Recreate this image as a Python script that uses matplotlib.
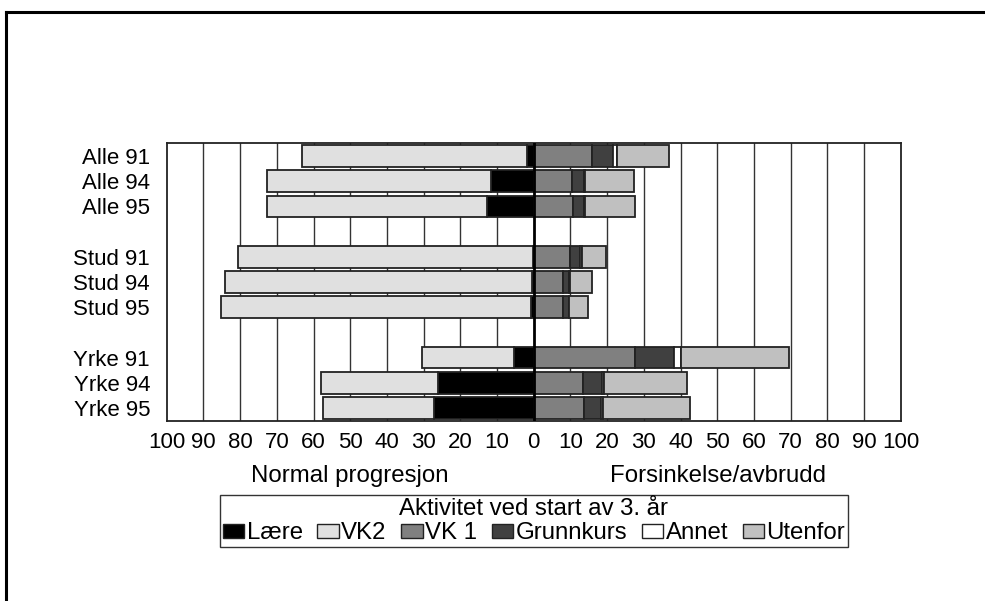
import matplotlib.pyplot as plt
from matplotlib.lines import Line2D
from matplotlib.patches import Patch
import numpy as np

plt.rcParams['font.family'] = ['Liberation Sans', 'DejaVu Sans']

groups = ['Alle 91', 'Alle 94', 'Alle 95', 'Stud 91', 'Stud 94', 'Stud 95',
          'Yrke 91', 'Yrke 94', 'Yrke 95']
slots = [0, 1, 2, 4, 5, 6, 8, 9, 10]

# normal progresjon (venstre side)
laere = [1.8, 11.6, 12.6, 0.2, 0.5, 0.7, 5.5, 26.2, 27.3]
vk2 = [61.4, 61.1, 60.0, 80.3, 83.6, 84.6, 24.8, 31.8, 30.1]
# forsinkelse/avbrudd (hoyre side)
vk1 = [15.8, 10.5, 10.6, 9.8, 8.1, 8.1, 27.6, 13.5, 13.6]
grunnkurs = [5.7, 3.2, 3.2, 2.9, 1.6, 1.5, 10.5, 5.2, 4.7]
annet = [1.1, 0.2, 0.1, 0.5, 0.1, 0.1, 2.1, 0.5, 0.5]
utenfor = [14.3, 13.5, 13.6, 6.4, 6.2, 5.2, 29.4, 22.7, 23.7]

ticks = list(range(-100, 101, 10))
ticklabels = [str(abs(t)) for t in ticks]

c_laere, c_vk2, c_vk1, c_gk, c_annet, c_ut = 'black', '#e0e0e0', '#808080', '#404040', 'white', '#c0c0c0'
fs = 16
fs2 = 17.3

fig = plt.figure(figsize=(9.85, 6.01), dpi=100)
ax = fig.add_axes([166.7/985, 1-420.7/601, (900.7-166.7)/985, (420.7-143.3)/601])

for t in ticks[1:-1]:
    if t != 0:
        ax.axvline(t, color='#333333', lw=1, zorder=0)

y = np.array(slots)
h = 0.86
ek = dict(height=h, edgecolor='#222222', linewidth=1.3, zorder=2)
l = -np.array(laere)
ax.barh(y, l, color=c_laere, **ek)
ax.barh(y, -np.array(vk2), left=l, color=c_vk2, **ek)

left = np.zeros(len(y))
for vals, c in [(vk1, c_vk1), (grunnkurs, c_gk), (annet, c_annet), (utenfor, c_ut)]:
    ax.barh(y, vals, left=left, color=c, **ek)
    left = left + np.array(vals)

ax.axvline(0, color='black', lw=2, zorder=3)

ax.set_xlim(-100, 100)
ax.set_ylim(10.5, -0.5)
ax.set_xticks(ticks)
ax.set_xticklabels(ticklabels, fontsize=fs)
ax.set_yticks(slots)
ax.set_yticklabels(groups, fontsize=fs)
ax.tick_params(axis='x', length=0, pad=8)
ax.tick_params(axis='y', length=0, pad=12)
for s in ax.spines.values():
    s.set_linewidth(1.3)
    s.set_color('#222222')

fig.text(350/985, 1-476/601, 'Normal progresjon', ha='center', va='center', fontsize=fs2)
fig.text(717.5/985, 1-476/601, 'Forsinkelse/avbrudd', ha='center', va='center', fontsize=fs2)

handles = [Patch(facecolor=c, edgecolor='#222222', linewidth=1) for c in
           [c_laere, c_vk2, c_vk1, c_gk, c_annet, c_ut]]
names = ['Lære', 'VK2', 'VK 1', 'Grunnkurs', 'Annet', 'Utenfor']
leg = fig.legend(handles, names, ncol=6, title='Aktivitet ved start av 3. år',
                 loc='center', bbox_to_anchor=(534/985, 1-521/601),
                 fontsize=fs2, title_fontsize=fs2, frameon=True, fancybox=False,
                 handlelength=0.9, handleheight=0.5, handletextpad=0.1,
                 columnspacing=0.6, borderpad=0.1, borderaxespad=0, labelspacing=0.1)
leg.get_frame().set_edgecolor('black')
leg.get_frame().set_linewidth(1)

# ramme rundt figuren
fig.add_artist(Line2D([6/985, 1.0], [1-12/601, 1-12/601], color='black', lw=2.2))
fig.add_artist(Line2D([6/985, 6/985], [1-12/601, 0.0], color='black', lw=2.2))

fig.savefig('out.png', dpi=100)
